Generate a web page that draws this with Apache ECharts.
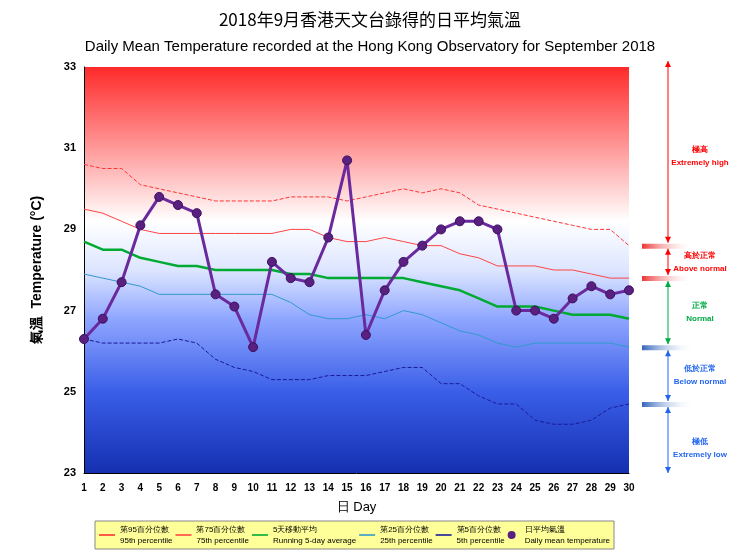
<!DOCTYPE html>
<html><head><meta charset="utf-8">
<script src="https://cdn.jsdelivr.net/npm/echarts@6/dist/echarts.min.js"></script>
<style>html,body{margin:0;background:#fff}#c{width:740px;height:555px}</style>
</head><body><div id="c"></div>
<script>
const days = Array.from({length: 30}, (_, i) => String(i + 1));
const p95 = [30.6,30.5,30.5,30.1,30.0,29.9,29.8,29.7,29.7,29.7,29.7,29.8,29.8,29.8,29.7,29.8,29.9,30.0,29.9,30.0,29.9,29.6,29.5,29.4,29.3,29.2,29.1,29.0,29.0,28.6];
const p75 = [29.5,29.4,29.2,29.0,28.9,28.9,28.9,28.9,28.9,28.9,28.9,29.0,29.0,28.8,28.7,28.7,28.8,28.7,28.6,28.6,28.4,28.3,28.1,28.1,28.1,28.0,28.0,27.9,27.8,27.8];
const run5 = [28.7,28.5,28.5,28.3,28.2,28.1,28.1,28.0,28.0,28.0,28.0,27.9,27.9,27.8,27.8,27.8,27.8,27.8,27.7,27.6,27.5,27.3,27.1,27.1,27.1,27.0,26.9,26.9,26.9,26.8];
const p25 = [27.9,27.8,27.7,27.6,27.4,27.4,27.4,27.4,27.4,27.4,27.4,27.2,26.9,26.8,26.8,26.9,26.8,27.0,26.9,26.7,26.5,26.4,26.2,26.1,26.2,26.2,26.2,26.2,26.2,26.1];
const p5 = [26.3,26.2,26.2,26.2,26.2,26.3,26.2,25.8,25.6,25.5,25.3,25.3,25.3,25.4,25.4,25.4,25.5,25.6,25.6,25.2,25.2,24.9,24.7,24.7,24.3,24.2,24.2,24.3,24.6,24.7];
const daily = [26.3,26.8,27.7,29.1,29.8,29.6,29.4,27.4,27.1,26.1,28.2,27.8,27.7,28.8,30.7,26.4,27.5,28.2,28.6,29.0,29.2,29.2,29.0,27.0,27.0,26.8,27.3,27.6,27.4,27.5];
const names = ['第95百分位數\n95th percentile','第75百分位數\n75th percentile','5天移動平均\nRunning 5-day average','第25百分位數\n25th percentile','第5百分位數\n5th percentile','日平均氣溫\nDaily mean temperature'];

const chart = echarts.init(document.getElementById('c'));
const ln = (name, data, color, type, width) => ({
  name, type: 'line', data, symbol: 'none', silent: true,
  lineStyle: {color, type: type || 'solid', width: width || 1}, itemStyle: {color}
});
chart.setOption({
  animation: false,
  title: [
    {text: '2018年9月香港天文台錄得的日平均氣溫', left: 'center', top: 6,
     textStyle: {fontFamily: 'Noto Sans CJK TC', fontSize: 17, fontWeight: 'normal', color: '#000'}},
    {text: 'Daily Mean Temperature recorded at the Hong Kong Observatory for September 2018', left: 'center', top: 34,
     textStyle: {fontFamily: 'Liberation Sans', fontSize: 15, fontWeight: 'normal', color: '#000'}}
  ],
  grid: {left: 84, right: 111, top: 67, bottom: 82, show: true, borderWidth: 0,
    backgroundColor: new echarts.graphic.LinearGradient(0, 0, 0, 1, [
      {offset: 0, color: '#ff2a2a'}, {offset: 0.2, color: '#f99'}, {offset: 0.38, color: '#fff'},
      {offset: 0.5, color: '#dde6ff'}, {offset: 0.62, color: '#8fa6ff'}, {offset: 0.8, color: '#3a5ee8'}, {offset: 1, color: '#1430b0'}])},
  xAxis: {type: 'category', data: days, boundaryGap: false, name: '日 Day', nameLocation: 'middle', nameGap: 28,
    nameTextStyle: {fontSize: 13, color: '#000'},
    axisLine: {lineStyle: {color: '#000'}}, axisTick: {show: false},
    axisLabel: {color: '#000', fontSize: 10, fontWeight: 'bold', interval: 0, margin: 10}},
  yAxis: {type: 'value', min: 23, max: 33, interval: 2, name: '氣溫  Temperature (°C)', nameLocation: 'middle', nameGap: 40,
    nameTextStyle: {fontSize: 14, color: '#000', fontWeight: 'bold'},
    axisLine: {show: true, lineStyle: {color: '#000'}}, axisTick: {show: false}, splitLine: {show: false},
    axisLabel: {color: '#000', fontSize: 11, fontWeight: 'bold'}},
  legend: {bottom: 6, left: 95, itemGap: 3, itemWidth: 16, itemHeight: 8,
    backgroundColor: '#ffff99', borderColor: '#888', borderWidth: 1, padding: [3, 4],
    textStyle: {fontSize: 8, lineHeight: 11, color: '#000'},
    data: names.map((n, i) => ({name: n, icon: i === 5 ? 'circle' : 'path://M0,0H10V1H0Z'}))},
  series: [
    ln(names[0], p95, '#ff3333', 'dashed'),
    ln(names[1], p75, '#ff4444'),
    ln(names[2], run5, '#00aa33', 'solid', 2.5),
    ln(names[3], p25, '#3399cc'),
    ln(names[4], p5, '#1a1a99', 'dashed'),
    {name: names[5], type: 'line', data: daily, symbol: 'circle', symbolSize: 9,
     lineStyle: {color: '#6a2a9e', width: 3}, itemStyle: {color: '#5a2080', borderColor: '#3a1060'}}
  ]
});

// right-hand category markers at the day-30 percentile levels
const px = v => chart.convertToPixel({yAxisIndex: 0}, v);
const x0 = 642, xa = 668, xt = 700;
const y95 = px(p95[29]), y75 = px(p75[29]), y25 = px(p25[29]), y5 = px(p5[29]), yT = px(33), yB = px(23);
const bar = (y, c) => ({type: 'rect', shape: {x: x0, y: y - 2, width: 52, height: 5},
  style: {fill: new echarts.graphic.LinearGradient(0, 0, 1, 0, [{offset: 0, color: c}, {offset: 1, color: 'rgba(255,255,255,0)'}])}});
const arrow = (y1, y2, c) => [
  {type: 'line', shape: {x1: xa, y1: y1, x2: xa, y2: y2}, style: {stroke: c, lineWidth: 1}},
  {type: 'polygon', shape: {points: [[xa - 3, y1 + 6], [xa + 3, y1 + 6], [xa, y1]]}, style: {fill: c}},
  {type: 'polygon', shape: {points: [[xa - 3, y2 - 6], [xa + 3, y2 - 6], [xa, y2]]}, style: {fill: c}}];
const lbl = (y, zh, en, c) => ({type: 'text', x: xt, y: y, style: {text: zh + '\n' + en, fill: c, fontSize: 8,
  fontWeight: 'bold', lineHeight: 13, align: 'center', verticalAlign: 'middle'}});
chart.setOption({graphic: [
  bar(y95, '#ee3333'), bar(y75, '#ee3333'), bar(y25, '#3366bb'), bar(y5, '#3366bb'),
  ...arrow(yT - 6, y95 - 3, '#ff0000'), ...arrow(y95 + 3, y75 - 3, '#ff0000'),
  ...arrow(y75 + 3, y25 - 3, '#00aa44'), ...arrow(y25 + 3, y5 - 3, '#2266ee'), ...arrow(y5 + 3, yB, '#2266ee'),
  lbl((yT + y95) / 2, '極高', 'Extremely high', '#ff0000'),
  lbl((y95 + y75) / 2, '高於正常', 'Above normal', '#ff0000'),
  lbl((y75 + y25) / 2, '正常', 'Normal', '#00aa44'),
  lbl((y25 + y5) / 2, '低於正常', 'Below normal', '#2266ee'),
  lbl((y5 + yB) / 2 + 10, '極低', 'Extremely low', '#2266ee')
]});
</script></body></html>
